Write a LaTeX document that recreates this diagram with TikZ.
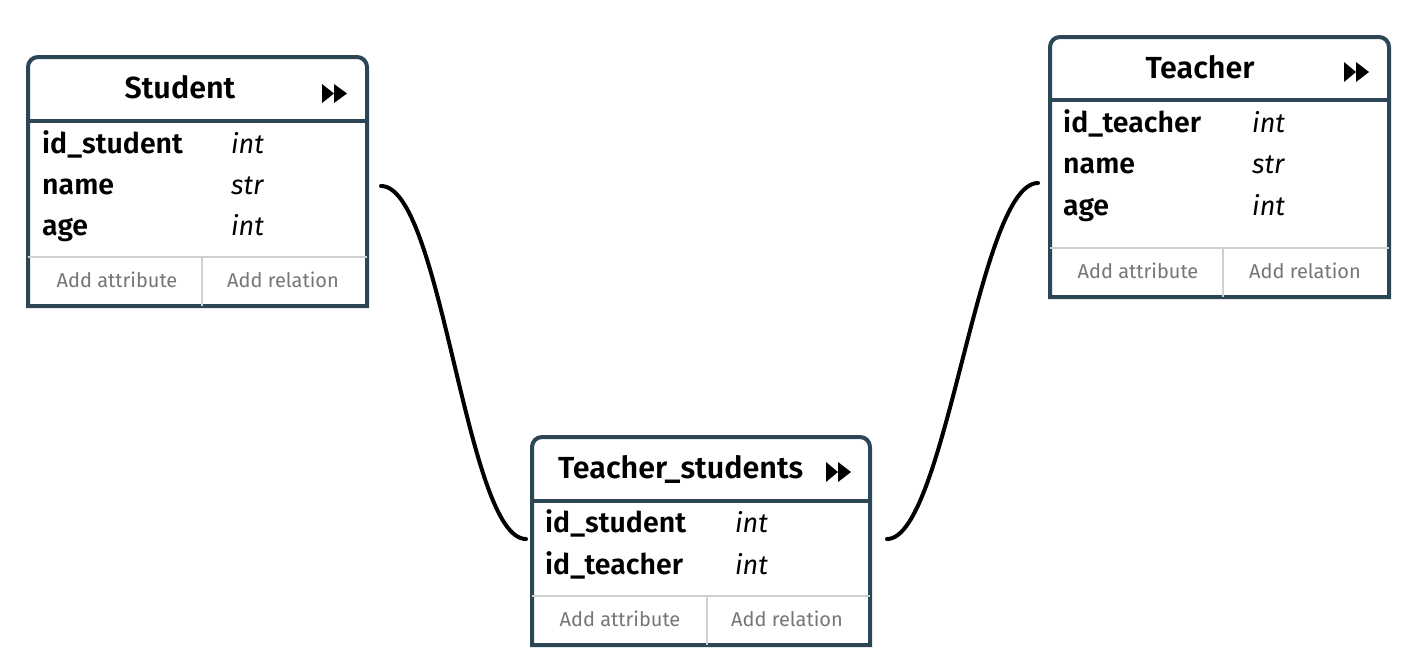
\documentclass[tikz,border=0pt]{standalone}
\usepackage{fontspec}
\setmainfont{Fira Sans}[BoldFont={Fira Sans SemiBold}, BoldItalicFont={Fira Sans SemiBold Italic}]
\definecolor{frame}{RGB}{44,70,86}
\definecolor{sepgray}{RGB}{208,208,208}
\definecolor{addgray}{RGB}{118,118,118}
\tikzset{
  boxarea/.style={inner sep=0pt, outer sep=0pt},
  boxframe/.style={draw=frame, line width=4pt, fill=white},
  hline/.style={draw=frame, line width=4pt},
  sepline/.style={draw=sepgray, line width=1.5pt},
  titletext/.style={font=\fontsize{30.5}{34}\selectfont\bfseries, anchor=base, inner sep=0pt},
  attrtext/.style={font=\fontsize{28.5}{32}\selectfont\bfseries, anchor=base west, inner sep=0pt},
  typetext/.style={font=\fontsize{27}{30}\selectfont\itshape, anchor=base west, inner sep=0pt},
  addtext/.style={font=\fontsize{20}{23}\selectfont, text=addgray, anchor=base, inner sep=0pt},
  conn/.style={draw=black, line width=4pt, line cap=round},
  iconfill/.style={fill=black}
}
% #1 name, #2 x1, #3 y1, #4 x2, #5 y2, #6 header y, #7 separator y, #8 divider x
\newcommand\erframe[8]{%
  \node[boxarea, minimum width=#4pt-#2pt, minimum height=#5pt-#3pt] (#1) at ({(#2+#4)/2},{(#3+#5)/2}) {};
  \draw[boxframe] (#1.south west) [rounded corners=10pt] -- (#1.north west) -- (#1.north east) [sharp corners] -- (#1.south east) -- cycle;
  \draw[hline] (#2,#6) -- (#4,#6);
  \draw[sepline] (#2,#7) -- (#4,#7);
  \draw[sepline] (#8,#7) -- (#8,#5);
}
% icon: #1 left x, #2 top y, #3 bottom y
\newcommand\fwdicon[3]{%
  \fill[iconfill] (#1,#2) -- ({#1+12},{(#2+#3)/2}) -- (#1,#3) -- cycle;
  \fill[iconfill] ({#1+12},#2) -- ({#1+25},{(#2+#3)/2}) -- ({#1+12},#3) -- cycle;
}
\begin{document}
\begin{tikzpicture}[x=1pt,y=-1pt]
\useasboundingbox (0,0) rectangle (1405,657);

% Student
\erframe{student}{28}{57}{367}{306}{120.5}{257}{202}
\node[titletext] (studenttitle) at (180,98) {Student};
\fwdicon{322}{84}{103}
\node[attrtext] (s1) at (42,153) {id\_student};
\node[typetext] (s1t) at (231,153) {int};
\node[attrtext] (s2) at (42,194) {name};
\node[typetext] (s2t) at (231,194) {str};
\node[attrtext] (s3) at (42,235) {age};
\node[typetext] (s3t) at (231,235) {int};
\node[addtext] (sa) at (117,287) {Add attribute};
\node[addtext] (sr) at (283,287) {Add relation};

% Teacher
\erframe{teacher}{1050}{37}{1389}{297}{100}{248}{1223}
\node[titletext] (teachertitle) at (1200,78) {Teacher};
\fwdicon{1344}{62}{82}
\node[attrtext] (t1) at (1063,132) {id\_teacher};
\node[typetext] (t1t) at (1252,132) {int};
\node[attrtext] (t2) at (1063,173) {name};
\node[typetext] (t2t) at (1252,173) {str};
\node[attrtext] (t3) at (1063,215) {age};
\node[typetext] (t3t) at (1252,215) {int};
\node[addtext] (ta) at (1138,278) {Add attribute};
\node[addtext] (tr) at (1305,278) {Add relation};

% Teacher_students
\erframe{ts}{532}{437}{870}{645}{501}{596}{707}
\node[titletext, anchor=base west] (tstitle) at (558,478) {Teacher\_students};
\fwdicon{826}{462}{482}
\node[attrtext] (ts1) at (545,532) {id\_student};
\node[typetext] (ts1t) at (735,532) {int};
\node[attrtext] (ts2) at (545,574) {id\_teacher};
\node[typetext] (ts2t) at (735,574) {int};
\node[addtext] (tsa) at (620,626) {Add attribute};
\node[addtext] (tsr) at (787,626) {Add relation};

% connectors
\coordinate (sout) at (381,186);
\coordinate (tsin) at ([xshift=-6pt]ts.west |- 0,539);
\coordinate (tsout) at ([xshift=17pt]ts.east |- 0,539);
\coordinate (tin) at ([xshift=-12pt]teacher.west |- 0,183);
\draw[conn] (sout) .. controls (442,186) and (466,539) .. (tsin);
\draw[conn] (tsout) .. controls (946,539) and (978,183) .. (tin);
\end{tikzpicture}
\end{document}
